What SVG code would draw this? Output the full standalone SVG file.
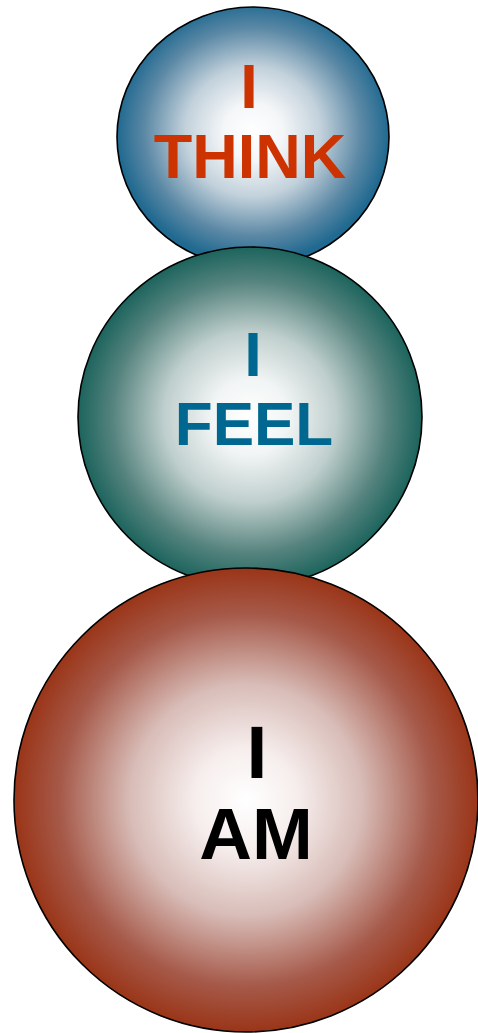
<svg xmlns="http://www.w3.org/2000/svg" width="478" height="1033" viewBox="0 0 478 1033">
<style>
.ball{stroke:#000;stroke-width:1.6}
.t{font-family:"Liberation Sans",Arial,sans-serif;font-weight:bold;text-anchor:middle}
</style>
<defs>
<radialGradient id="gBlue" cx="0.5" cy="0.48" r="0.5">
<stop offset="0" stop-color="#ffffff"/>
<stop offset="0.22" stop-color="#f4f6f8"/>
<stop offset="0.5" stop-color="#c2d1db"/>
<stop offset="0.8" stop-color="#5b88a5"/>
<stop offset="1" stop-color="#206990"/>
</radialGradient>
<radialGradient id="gTeal" cx="0.5" cy="0.5" r="0.5">
<stop offset="0" stop-color="#ffffff"/>
<stop offset="0.22" stop-color="#f2f5f5"/>
<stop offset="0.5" stop-color="#bfcfcd"/>
<stop offset="0.8" stop-color="#56837e"/>
<stop offset="1" stop-color="#1c645d"/>
</radialGradient>
<radialGradient id="gRed" cx="0.5" cy="0.5" r="0.5">
<stop offset="0" stop-color="#ffffff"/>
<stop offset="0.22" stop-color="#f6eeed"/>
<stop offset="0.5" stop-color="#d8bcb7"/>
<stop offset="0.8" stop-color="#a65a4a"/>
<stop offset="1" stop-color="#9a3518"/>
</radialGradient>
</defs>
<g id="think">
<ellipse class="ball" cx="253" cy="137" rx="136" ry="130" fill="url(#gBlue)"/>
<text class="t" x="249" y="108" font-size="63" fill="#cc3300">I</text>
<text class="t" x="250" y="178" font-size="63" fill="#cc3300">THINK</text>
</g>
<g id="feel">
<ellipse class="ball" cx="250" cy="417" rx="172" ry="170" fill="url(#gTeal)"/>
<text class="t" x="253" y="376" font-size="63" fill="#006890">I</text>
<text class="t" x="254" y="445" font-size="62" fill="#006890">FEEL</text>
</g>
<g id="am">
<ellipse class="ball" cx="246" cy="800" rx="232" ry="232" fill="url(#gRed)"/>
<text class="t" x="257" y="778" font-size="75" fill="#000">I</text>
<text class="t" x="256" y="859" font-size="73" fill="#000">AM</text>
</g>
<g id="connectors"></g>
</svg>
